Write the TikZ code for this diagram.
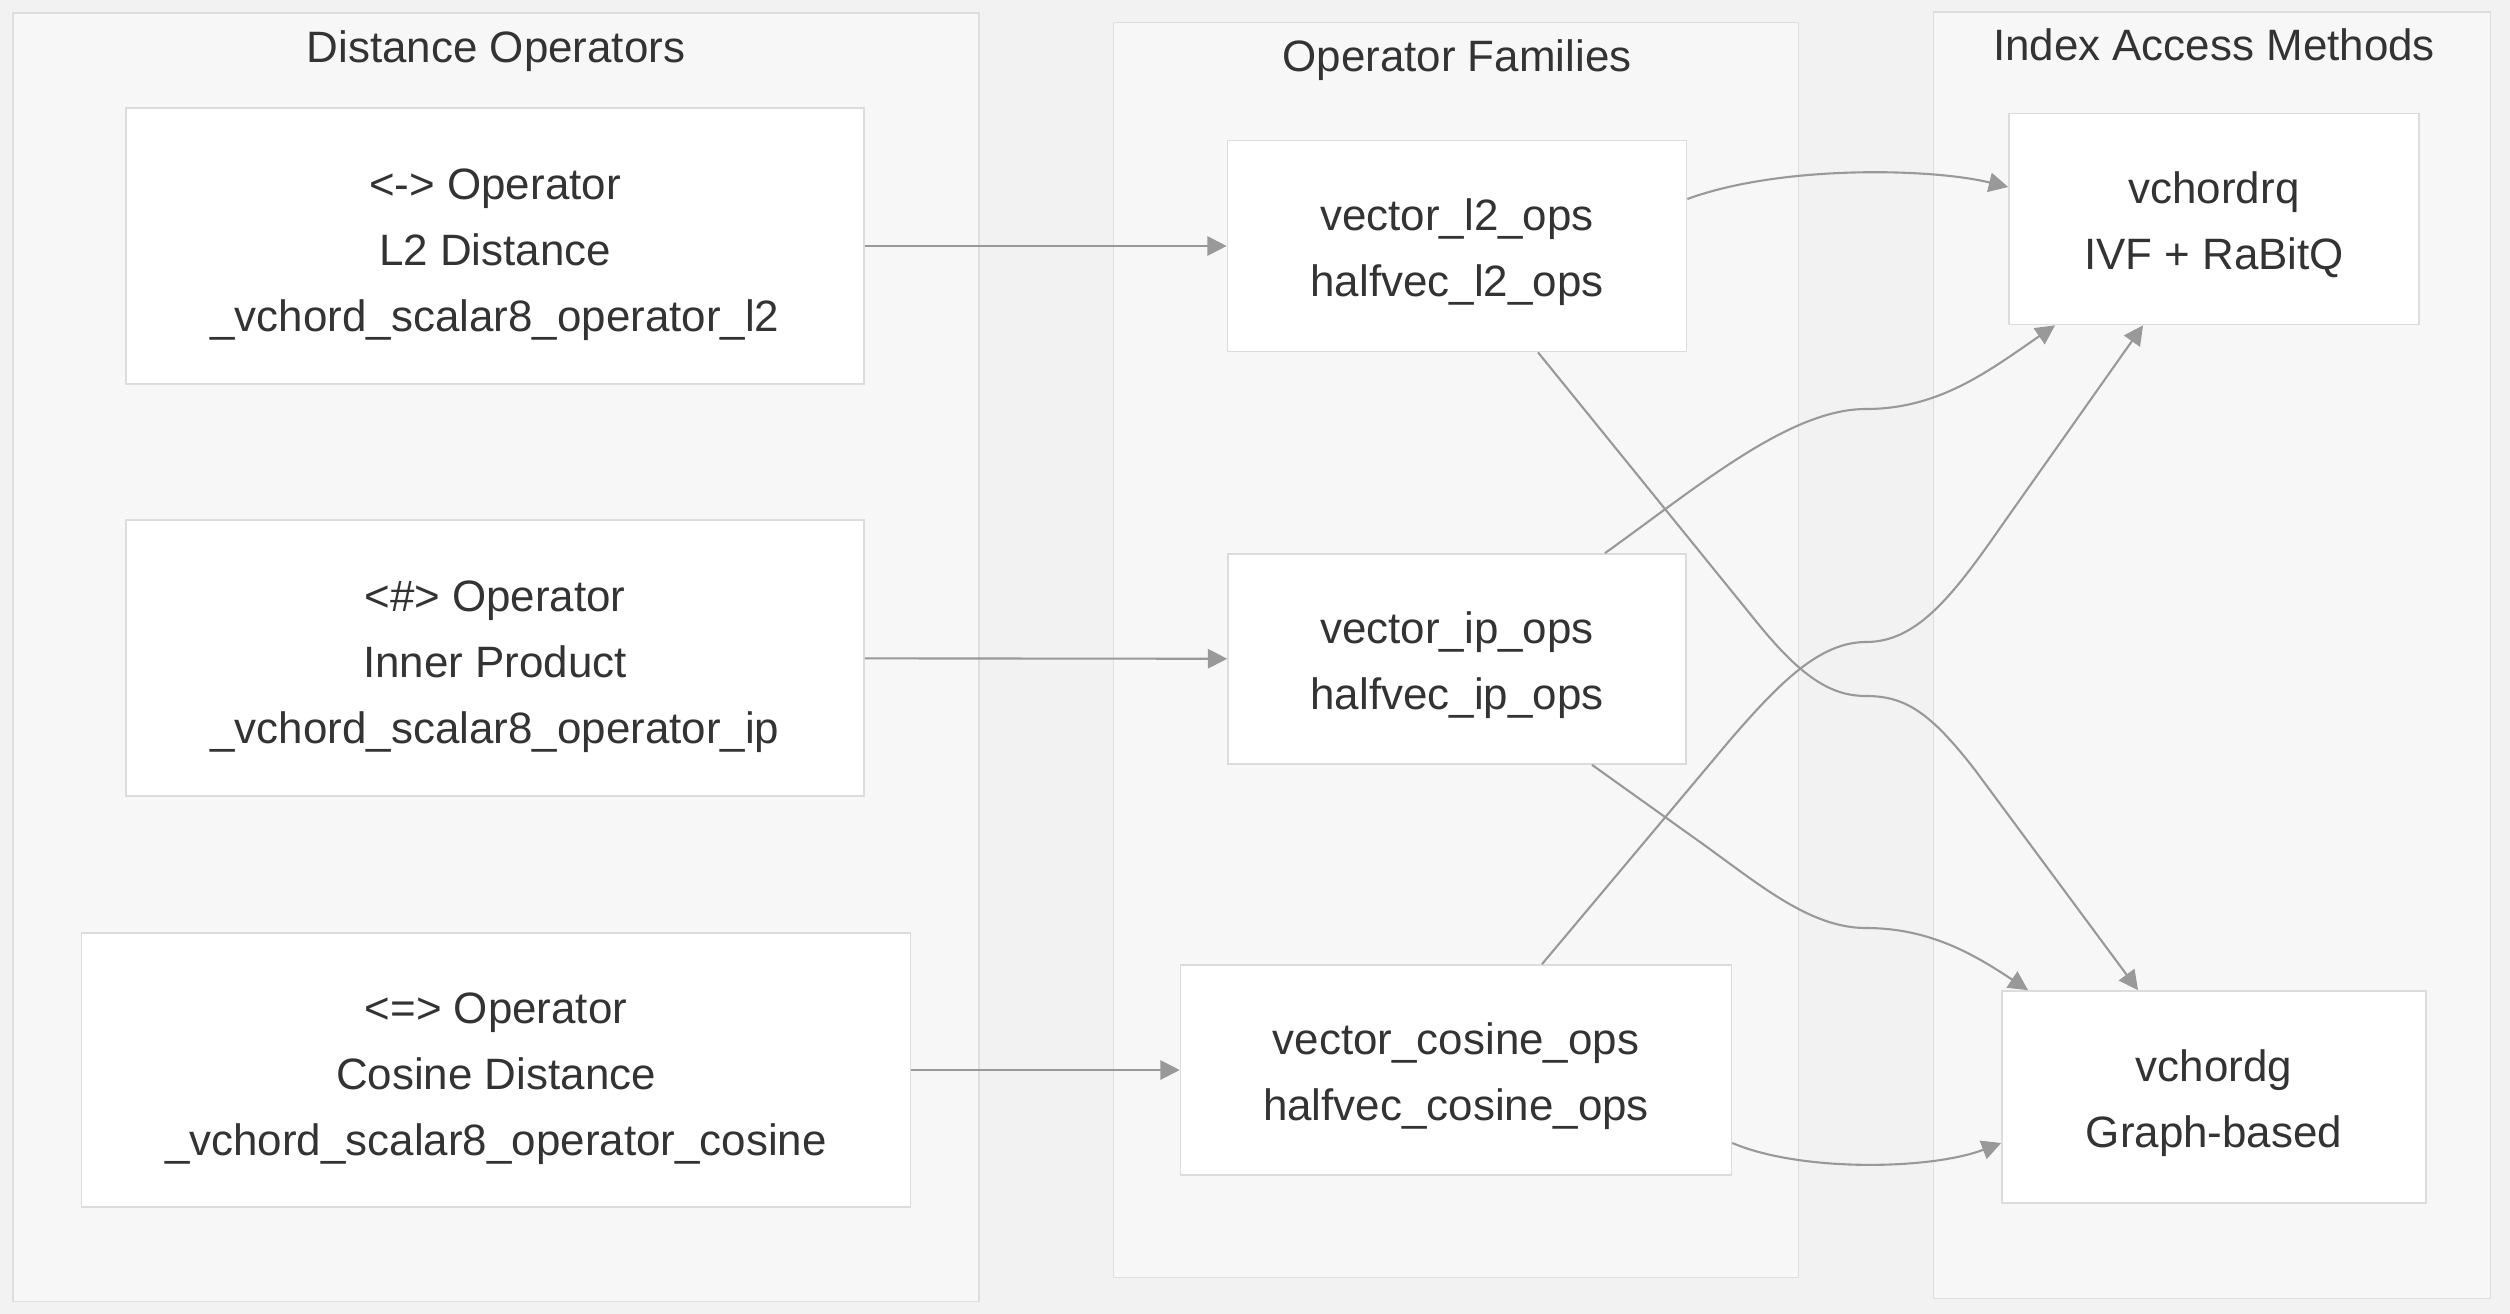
\documentclass[tikz,border=0pt]{standalone}
\usepackage{fontspec}
\setmainfont{Liberation Sans}
\usetikzlibrary{arrows.meta}

\definecolor{pagegray}{RGB}{242,242,242}
\definecolor{groupfill}{RGB}{247,247,247}
\definecolor{groupline}{RGB}{222,222,222}
\definecolor{boxline}{RGB}{220,220,220}
\definecolor{linkgray}{RGB}{153,153,153}
\definecolor{textgray}{RGB}{51,51,51}

\begin{document}
\begin{tikzpicture}[x=0.02cm, y=-0.02cm,
    group box/.style={rectangle, draw=groupline, fill=groupfill, line width=1pt, inner sep=0pt},
    group title/.style={anchor=base, text=textgray, font=\fontsize{25}{30}\selectfont},
    main node/.style={rectangle, draw=boxline, fill=white, line width=1pt, inner sep=0pt, align=center, text=textgray, font=\fontsize{25}{37.5}\selectfont, text depth=0pt, text height=57pt},
    three lines/.style={text height=97pt},
    link/.style={draw=linkgray, line width=1.2pt, -{Triangle[length=11pt,width=11pt]}}]

                \fill[pagegray] (0,0) rectangle (2510,1314);

                % groups
                \node[group box, minimum width=19.32cm, minimum height=25.78cm] at (496, 657) (dist) {};
                \node[group box, minimum width=13.70cm, minimum height=25.10cm] at (1456, 650) (fam) {};
                \node[group box, minimum width=11.14cm, minimum height=25.74cm] at (2212, 655) (idx) {};
                \node[group title] at (496, 63) (distlabel) {Distance Operators};
                \node[group title] at (1457, 72) (famlabel) {Operator Families};
                \node[group title] at (2214, 61) (idxlabel) {Index Access Methods};

                % distance operators
                \node[main node, three lines, minimum width=14.76cm, minimum height=5.52cm] at (495, 246) (d1) {<-> Operator\\L2 Distance\\\_vchord\_scalar8\_operator\_l2};
                \node[main node, three lines, minimum width=14.76cm, minimum height=5.52cm] at (495, 658) (d2) {<\#> Operator\\Inner Product\\\_vchord\_scalar8\_operator\_ip};
                \node[main node, three lines, minimum width=16.58cm, minimum height=5.48cm] at (496, 1070) (d3) {<=> Operator\\Cosine Distance\\\_vchord\_scalar8\_operator\_cosine};

                % operator families
                \node[main node, minimum width=9.18cm, minimum height=4.22cm] at (1457, 246) (f1) {vector\_l2\_ops\\halfvec\_l2\_ops};
                \node[main node, minimum width=9.16cm, minimum height=4.20cm] at (1457, 659) (f2) {vector\_ip\_ops\\halfvec\_ip\_ops};
                \node[main node, minimum width=11.02cm, minimum height=4.20cm] at (1456, 1070) (f3) {vector\_cosine\_ops\\halfvec\_cosine\_ops};

                % index access methods
                \node[main node, minimum width=8.20cm, minimum height=4.22cm] at (2214, 219) (i1) {vchordrq\\IVF + RaBitQ};
                \node[main node, minimum width=8.48cm, minimum height=4.24cm] at (2214, 1097) (i2) {vchordg\\Graph-based};

                \path (d1) edge[link] (f1);
                \path (d2) edge[link] (f2);
                \path (d3) edge[link] (f3);

                \draw[link] ([yshift=0.94cm]f1.east) .. controls (1780,165) and (1930,168) .. ([yshift=0.64cm]i1.west);
                \draw[link] ([xshift=1.62cm]f1.south) -- (1755,620) .. controls (1800,676) and (1830,696) .. (1866,696)
                    .. controls (1905,696) and (1930,712) .. (1975,770) -- ([xshift=-1.52cm]i2.north);
                \draw[link] ([xshift=2.96cm]f2.north) .. controls (1700,485) and (1790,409) .. (1866,409)
                    .. controls (1940,409) and (1990,370) .. ([xshift=-3.18cm]i1.south);
                \draw[link] ([xshift=2.70cm]f2.south) -- (1700,842) .. controls (1760,885) and (1810,928) .. (1866,928)
                    .. controls (1930,928) and (1975,955) .. ([xshift=-3.72cm]i2.north);
                \draw[link] ([xshift=1.72cm]f3.north) -- (1730,740) .. controls (1780,682) and (1820,642) .. (1866,642)
                    .. controls (1915,642) and (1950,600) .. (2000,528) -- ([xshift=-1.42cm]i1.south);
                \draw[link] ([yshift=-1.46cm]f3.east) .. controls (1800,1172) and (1930,1170) .. ([yshift=-0.92cm]i2.west);

            \end{tikzpicture}
\end{document}
